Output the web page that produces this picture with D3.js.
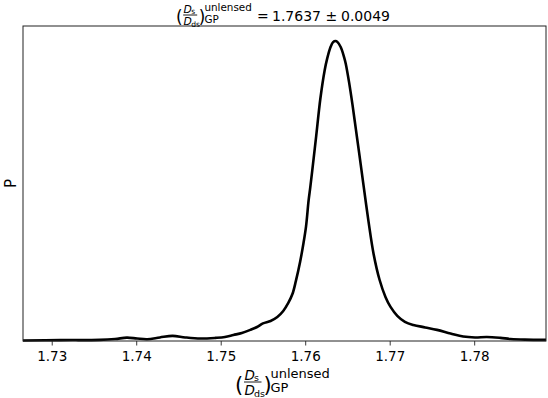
<!DOCTYPE html>
<html>
<head>
<meta charset="utf-8">
<script src="https://cdn.jsdelivr.net/npm/d3@7"></script>
<style>
  body { margin: 0; background: #fff; }
  text { font-family: "DejaVu Sans", sans-serif; fill: #000; }
</style>
</head>
<body>
<div id="chart"></div>
<script>
// KDE of (Ds/Dds) unlensed GP
var xs = [1.7266, 1.7310, 1.7357, 1.7375, 1.7389, 1.7401, 1.7413, 1.7428, 1.7443, 1.7458,
  1.7476, 1.7494, 1.7505, 1.7515, 1.7525, 1.7535, 1.7543, 1.7550, 1.7559, 1.7567,
  1.7574, 1.7580, 1.7585, 1.7589, 1.7594, 1.7598, 1.7601, 1.7604, 1.7606, 1.7610,
  1.7613, 1.7618, 1.7623, 1.7626, 1.7630, 1.7633, 1.7636, 1.7638, 1.7642, 1.7646,
  1.7648, 1.7652, 1.7656, 1.7660, 1.7664, 1.7669, 1.7675, 1.7681, 1.7688, 1.7695,
  1.7701, 1.7709, 1.7718, 1.7728, 1.7742, 1.7756, 1.7772, 1.7787, 1.7801, 1.7815,
  1.7831, 1.7843, 1.7860, 1.7885];
var density = [0.2, 0.4, 0.5, 0.9, 1.5, 1.1, 0.8, 1.6, 2.3, 1.6,
  1.1, 1.4, 1.8, 2.7, 3.6, 5.0, 6.3, 7.9, 9.0, 10.8,
  13.5, 17.1, 21.2, 27.0, 35.6, 44.0, 51.5, 63.0, 69.0, 82.0,
  92.0, 109.0, 121.5, 126.8, 132.0, 134.2, 134.7, 134.3, 132.0, 127.5,
  124.5, 116.0, 106.0, 95.0, 84.0, 70.0, 53.5, 39.0, 27.5, 19.8,
  15.3, 11.3, 8.6, 7.2, 6.1, 5.0, 3.4, 2.0, 1.6, 1.8,
  1.4, 0.9, 0.6, 0.5];
var xTicks = [1.73, 1.74, 1.75, 1.76, 1.77, 1.78];
var meanText = "1.7637", errText = "0.0049";

var W = 548, H = 398;
var margin = {top: 26, right: 2, bottom: 57, left: 23};
var width = W - margin.left - margin.right;
var height = H - margin.top - margin.bottom;

var data = xs.map(function(x, i) { return {x: x, y: density[i]}; });

var svg = d3.select("#chart").append("svg")
  .attr("width", W).attr("height", H);

var g = svg.append("g")
  .attr("transform", "translate(" + margin.left + "," + margin.top + ")");

var x = d3.scaleLinear()
  .domain(d3.extent(xs))
  .range([0, width]);

var y = d3.scaleLinear()
  .domain([0, d3.max(density) * 1.05])
  .range([height, 0]);

var line = d3.line()
  .curve(d3.curveCatmullRom.alpha(0.5))
  .x(function(d) { return x(d.x); })
  .y(function(d) { return y(d.y); });

g.append("path")
  .datum(data)
  .attr("d", line)
  .attr("fill", "none")
  .attr("stroke", "#000")
  .attr("stroke-width", 2.6)
  .attr("stroke-linejoin", "round");

// x axis
var xAxis = g.append("g")
  .attr("transform", "translate(0," + height + ")")
  .call(d3.axisBottom(x).tickValues(xTicks).tickFormat(d3.format(".2f")).tickSize(4.5).tickSizeOuter(0));
xAxis.select(".domain").remove();
xAxis.selectAll("line").attr("stroke", "#222").attr("stroke-width", 0.9);
xAxis.selectAll("text")
  .attr("dy", null).attr("y", 19.5)
  .style("font-size", "13.5px").style("font-family", "DejaVu Sans");

// frame
g.append("rect")
  .attr("x", 0).attr("y", 0)
  .attr("width", width).attr("height", height)
  .attr("fill", "none")
  .attr("stroke", "#222")
  .attr("stroke-width", 1);

// y label
svg.append("text")
  .attr("transform", "translate(15.5," + (margin.top + height / 2) + ") rotate(-90)")
  .attr("text-anchor", "middle")
  .style("font-size", "15px")
  .text("P");

// (Ds/Dds)^unlensed_GP built from pieces; left edge x0, fraction bar at by
function mathLabel(parent, x0, by, s) {
  var m = parent.append("g");
  function t(txt, dx, dy, size, italic) {
    var el = m.append("text").attr("x", x0 + dx * s).attr("y", by + dy * s)
      .style("font-size", (size * s) + "px").text(txt);
    if (italic) el.style("font-style", "italic");
    return el;
  }
  t("(", 0, 10, 21);
  t("D", 9.5, -2.5, 13.5, true);
  t("s", 19, -1.3, 9.5);
  m.append("line")
    .attr("x1", x0 + 9 * s).attr("x2", x0 + 26.5 * s)
    .attr("y1", by).attr("y2", by)
    .attr("stroke", "#000").attr("stroke-width", 0.9);
  t("D", 9.5, 12.5, 13.5, true);
  t("ds", 19, 14.5, 9.5);
  t(")", 28.5, 10, 21);
  t("unlensed", 35.5, -4.5, 13);
  t("GP", 35.5, 9.5, 13);
  return m;
}

mathLabel(svg, 235, 382, 1);

var title = svg.append("g");
mathLabel(title, 176, 15, 0.8);
title.append("text").attr("x", 257).attr("y", 20.5).style("font-size", "14px").text("=");
title.append("text").attr("x", 272).attr("y", 20.5).style("font-size", "14px").text(meanText);
title.append("text").attr("x", 325.5).attr("y", 20.5).style("font-size", "14px").text("\u00b1");
title.append("text").attr("x", 341).attr("y", 20.5).style("font-size", "14px").text(errText);
</script>
</body>
</html>
